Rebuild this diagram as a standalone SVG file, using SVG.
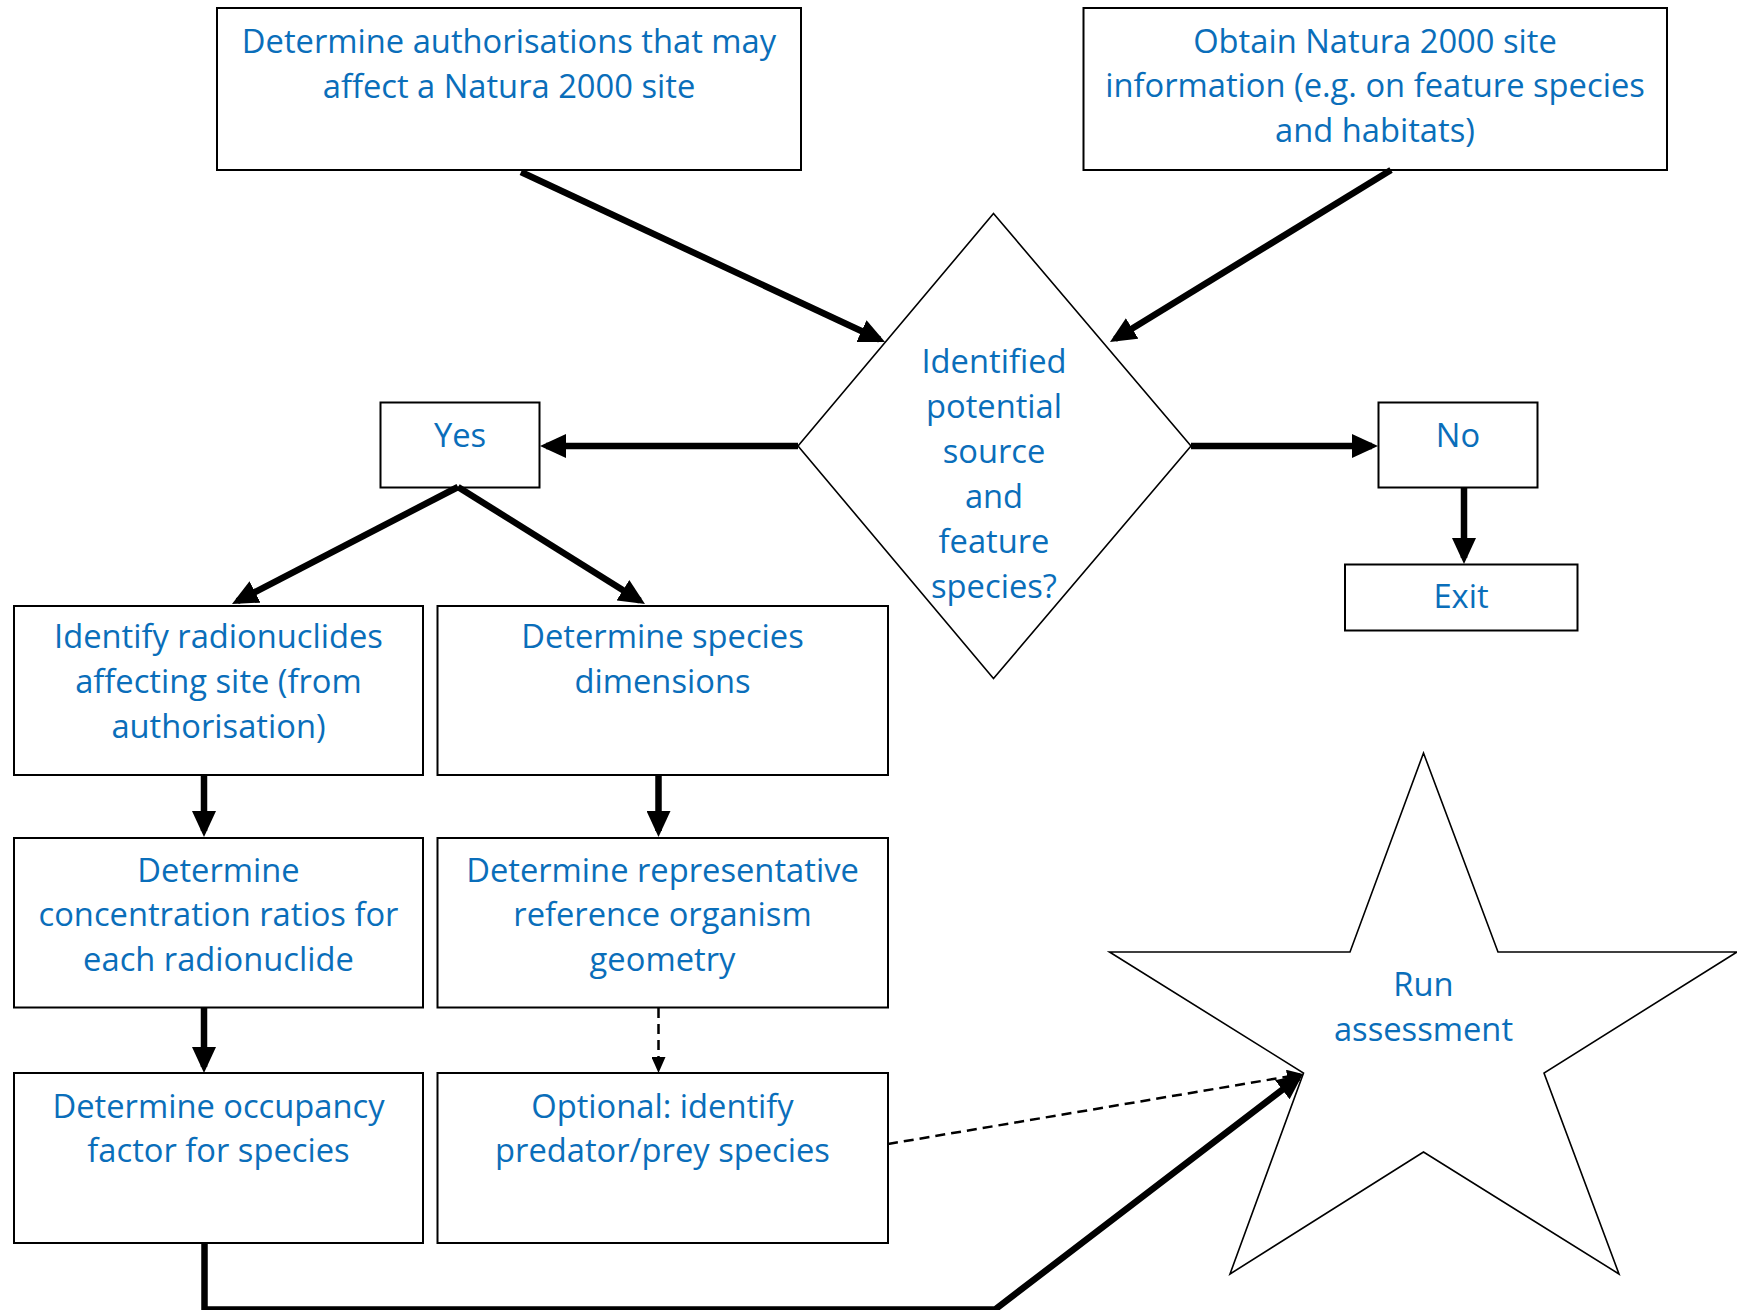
<svg xmlns="http://www.w3.org/2000/svg" width="1737" height="1310" viewBox="0 0 1737 1310">
<style>
.box{fill:#fff;stroke:#000;stroke-width:2}
.shape{fill:#fff;stroke:#000;stroke-width:1.6}
.t{font-family:"Open Sans","Liberation Sans",Arial,sans-serif;font-size:32.7px;fill:#0A6EBA;text-anchor:middle}
.c{fill:none;stroke:#000;stroke-width:6.5;stroke-linecap:butt;stroke-linejoin:miter}
.d{fill:none;stroke:#000;stroke-width:2.5;stroke-dasharray:10 6}
</style>
<defs>
<marker id="ah" markerUnits="userSpaceOnUse" markerWidth="26" markerHeight="24" viewBox="0 0 26 24" refX="20" refY="12" orient="auto">
<path d="M0,0 L26,12 L0,24 z" fill="#000"/>
</marker>
<marker id="ahs" markerUnits="userSpaceOnUse" markerWidth="16" markerHeight="14" viewBox="0 0 16 14" refX="13" refY="7" orient="auto">
<path d="M0,0 L16,7 L0,14 z" fill="#000"/>
</marker>
</defs>
<rect width="1737" height="1310" fill="#fff"/>

<g id="n_auth"><rect class="box" x="217" y="8" width="584" height="162"/>
<text class="t" x="509" y="53">Determine authorisations that may</text>
<text class="t" x="509" y="98">affect a Natura 2000 site</text></g>

<g id="n_info"><rect class="box" x="1083.5" y="8" width="583.5" height="162"/>
<text class="t" x="1375" y="53">Obtain Natura 2000 site</text>
<text class="t" x="1375" y="97">information (e.g. on feature species</text>
<text class="t" x="1375" y="142">and habitats)</text></g>

<g id="n_decision"><polygon class="shape" points="993.5,213.5 1191,446 993.5,678.5 798,446"/>
<text class="t" x="994" y="373">Identified</text>
<text class="t" x="994" y="418">potential</text>
<text class="t" x="994" y="463">source</text>
<text class="t" x="994" y="508">and</text>
<text class="t" x="994" y="553">feature</text>
<text class="t" x="994" y="598">species?</text></g>

<g id="n_yes"><rect class="box" x="380.5" y="402.5" width="159" height="85"/>
<text class="t" x="460" y="447">Yes</text></g>

<g id="n_no"><rect class="box" x="1378.5" y="402.5" width="159" height="85"/>
<text class="t" x="1458" y="447">No</text></g>

<g id="n_exit"><rect class="box" x="1345" y="564.5" width="232.5" height="66"/>
<text class="t" x="1461" y="608">Exit</text></g>

<g id="n_radio"><rect class="box" x="14" y="606" width="409" height="169"/>
<text class="t" x="218.5" y="648">Identify radionuclides</text>
<text class="t" x="218.5" y="693">affecting site (from</text>
<text class="t" x="218.5" y="738">authorisation)</text></g>

<g id="n_dims"><rect class="box" x="437.5" y="606" width="450.5" height="169"/>
<text class="t" x="662.5" y="648">Determine species</text>
<text class="t" x="662.5" y="693">dimensions</text></g>

<g id="n_conc"><rect class="box" x="14" y="838" width="409" height="169.5"/>
<text class="t" x="218.5" y="882">Determine</text>
<text class="t" x="218.5" y="926">concentration ratios for</text>
<text class="t" x="218.5" y="971">each radionuclide</text></g>

<g id="n_geom"><rect class="box" x="437.5" y="838" width="450.5" height="169.5"/>
<text class="t" x="662.5" y="882">Determine representative</text>
<text class="t" x="662.5" y="926">reference organism</text>
<text class="t" x="662.5" y="971">geometry</text></g>

<g id="n_occ"><rect class="box" x="14" y="1073" width="409" height="170"/>
<text class="t" x="218.5" y="1118">Determine occupancy</text>
<text class="t" x="218.5" y="1162">factor for species</text></g>

<g id="n_pred"><rect class="box" x="437.5" y="1073" width="450.5" height="170"/>
<text class="t" x="662.5" y="1118">Optional: identify</text>
<text class="t" x="662.5" y="1162">predator/prey species</text></g>

<g id="n_run"><polygon class="shape" points="1423.5,753 1498,952 1737,952 1544,1073 1619,1274 1423.5,1152 1230,1274 1303.5,1073 1109.5,952 1350,952"/>
<text class="t" x="1423.5" y="996">Run</text>
<text class="t" x="1423.5" y="1041">assessment</text></g>

<g id="connectors">
<line class="c" x1="521" y1="172" x2="879.6" y2="339.5" marker-end="url(#ah)"/>
<line class="c" x1="1391" y1="170" x2="1115.1" y2="338.9" marker-end="url(#ah)"/>
<line class="c" x1="798" y1="446" x2="546" y2="446" marker-end="url(#ah)"/>
<line class="c" x1="1191" y1="446" x2="1372" y2="446" marker-end="url(#ah)"/>
<line class="c" x1="1464" y1="487" x2="1464" y2="558" marker-end="url(#ah)"/>
<line class="c" x1="458" y1="487" x2="237.3" y2="601.2" marker-end="url(#ah)"/>
<line class="c" x1="458" y1="487" x2="639.9" y2="600.8" marker-end="url(#ah)"/>
<line class="c" x1="204" y1="775" x2="204" y2="831" marker-end="url(#ah)"/>
<line class="c" x1="658.5" y1="775" x2="658.5" y2="831" marker-end="url(#ah)"/>
<line class="c" x1="204" y1="1007" x2="204" y2="1067" marker-end="url(#ah)"/>
<line class="d" x1="658.5" y1="1008" x2="658.5" y2="1070" stroke-dasharray="8 6" stroke-width="2" marker-end="url(#ahs)"/>
<line class="d" x1="888" y1="1144" x2="1300" y2="1074.5" marker-end="url(#ahs)"/>
<polyline class="c" points="204.5,1243 204.5,1309.5 995,1309.5 1298.2,1077.6" stroke-width="9" marker-end="url(#ah)"/>
</g>
</svg>
